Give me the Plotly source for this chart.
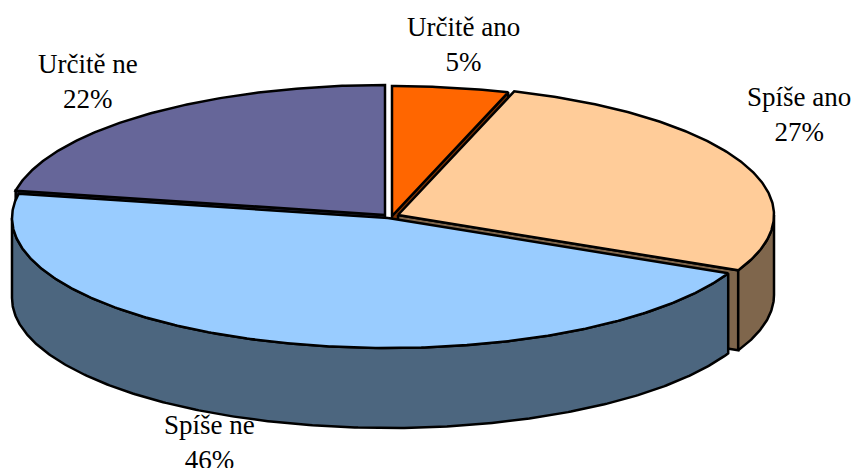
import numpy as np
import plotly.graph_objects as go

# Data
categories = ["Určitě ano", "Spíše ano", "Spíše ne", "Určitě ne"]
shares = [5, 27, 46, 22]

# Styling per slice
top_colors = ["#FF6600", "#FFCC99", "#99CCFF", "#666699"]
wall_colors = ["#7F3300", "#7F664C", "#4C667F", "#33334C"]
centres = [(392, 216), (398, 215), (388, 218), (385, 215)]
label_xy = [(463, 44), (799, 114), (209, 442), (88, 81)]
draw_order = [3, 0, 1, 2]

RX, RY, DEPTH = 376, 130, 80
FONT = dict(family="Liberation Serif, Times New Roman, serif", size=27, color="black")
OUTLINE = dict(color="black", width=2.5)


def rim(centre, t0, t1):
    t = np.radians(np.linspace(t0, t1, max(int(abs(t1 - t0) * 2), 2)))
    return centre[0] + RX * np.sin(t), centre[1] - RY * np.cos(t)


def poly(fig, x, y, color):
    fig.add_trace(go.Scatter(x=np.append(x, x[0]), y=np.append(y, y[0]), mode="lines",
                             fill="toself", fillcolor=color, line=OUTLINE,
                             hoverinfo="skip", showlegend=False))


fig = go.Figure()
cum = np.concatenate([[0], np.cumsum(shares)]) * 360 / sum(shares)

for i in draw_order:
    c = centres[i]
    t0, t1 = cum[i], cum[i + 1]
    # Cut face along the slice edge that drops towards the viewer
    if i in (0, 1, 3):
        face_t = t1 if i != 3 else t0
        fx, fy = rim(c, face_t, face_t)
        poly(fig, np.array([c[0], fx[0], fx[0], c[0]]),
             np.array([c[1], fy[0], fy[0] + DEPTH, c[1] + DEPTH]), wall_colors[i])
    # Outer wall of the front half
    a0, a1 = max(t0, 90), min(t1, 270)
    if a1 > a0:
        wx, wy = rim(c, a0, a1)
        poly(fig, np.concatenate([wx, wx[::-1]]),
             np.concatenate([wy, wy[::-1] + DEPTH]), wall_colors[i])
    # Top face
    tx, ty = rim(c, t0, t1)
    poly(fig, np.concatenate([[c[0]], tx]), np.concatenate([[c[1]], ty]), top_colors[i])

for name, share, (lx, ly) in zip(categories, shares, label_xy):
    fig.add_annotation(x=lx, y=ly, text=f"{name}<br>{share}%", showarrow=False,
                       xanchor="center", yanchor="middle", font=FONT)

fig.update_layout(
    width=853, height=468, margin=dict(l=0, r=0, t=0, b=0),
    paper_bgcolor="white", plot_bgcolor="white", showlegend=False,
    xaxis=dict(range=[0, 853], visible=False, fixedrange=True),
    yaxis=dict(range=[468, 0], visible=False, fixedrange=True),
)
fig.write_html("out.html", config=dict(displayModeBar=False),
               post_script="document.body.style.margin='0';document.documentElement.style.overflow='hidden';")
